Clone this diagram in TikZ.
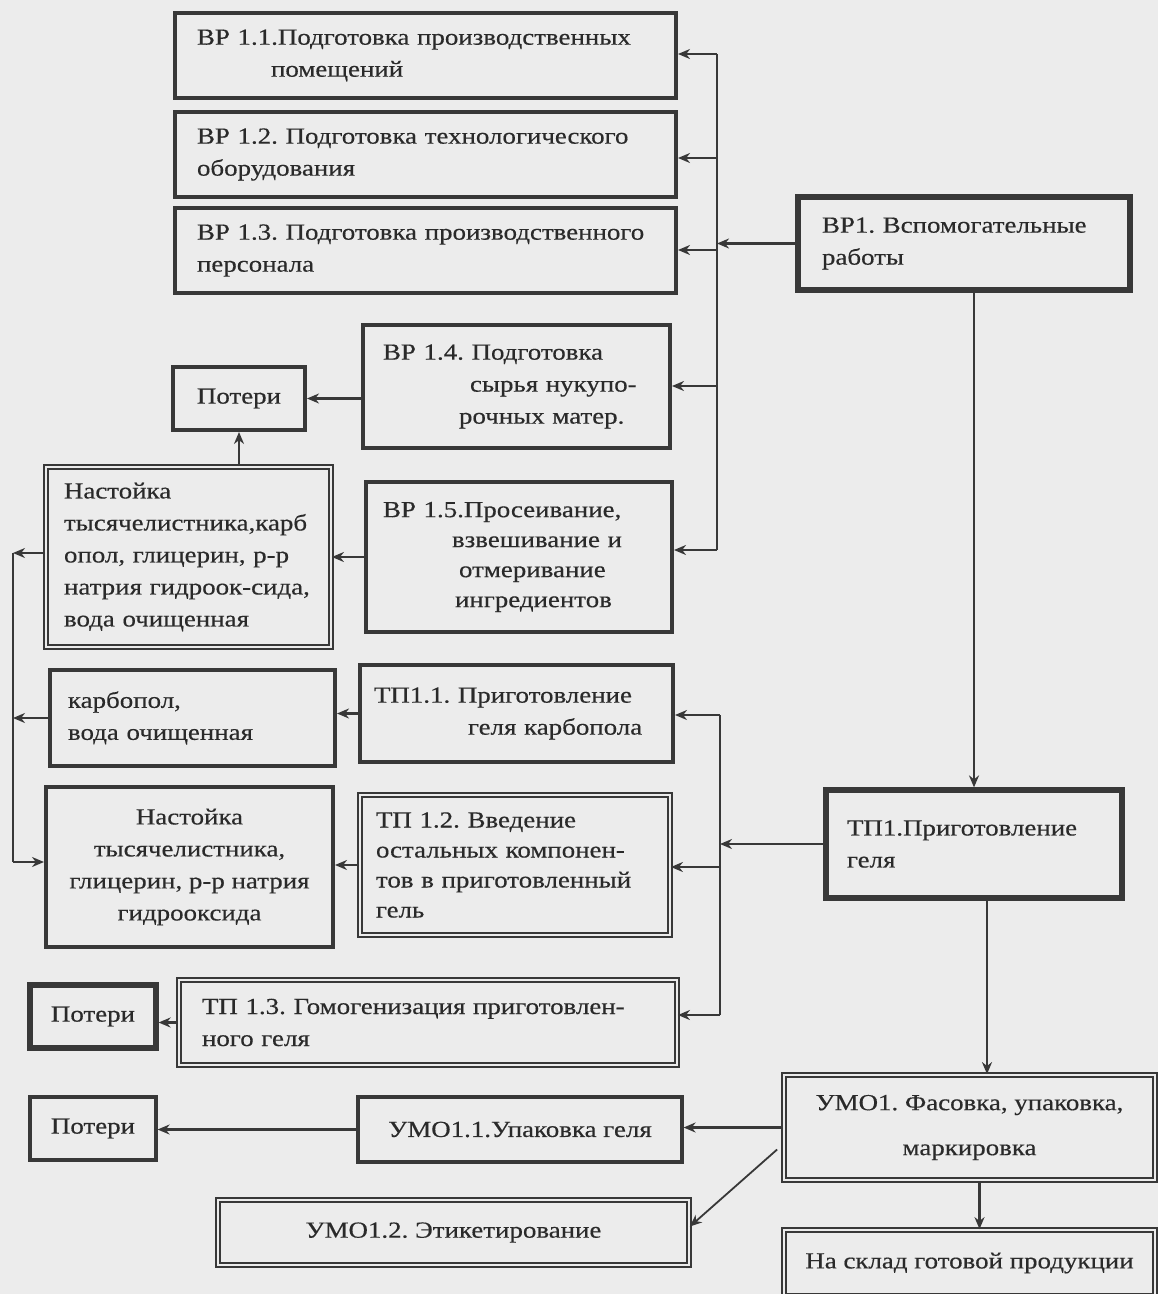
\documentclass[tikz,border=0pt]{standalone}
\usepackage{fontspec}
\setmainfont{Liberation Serif}[FakeStretch=1.17,FakeBold=0.4]
\usetikzlibrary{arrows.meta,calc}
\definecolor{ink}{HTML}{2A2A2A}
\definecolor{edge}{HTML}{383838}
\definecolor{paper}{HTML}{ECECEC}
\frenchspacing
\begin{document}
\begin{tikzpicture}[x=0.5pt,y=-0.5pt,
  every node/.style={font=\frenchspacing\fontsize{11.5}{16}\selectfont, text=ink},
  bx/.style={draw=edge, line width=2pt, inner ysep=0pt},
  bxx/.style={draw=edge, line width=2.6pt, inner ysep=0pt},
  bxt/.style={draw=edge, line width=1.6pt, inner ysep=0pt},
  dbx/.style={draw=edge, double=paper, double distance=1.1pt, line width=0.9pt, inner ysep=0pt},
  lft/.style={align=left},
  ctr/.style={align=center},
  ln/.style={draw=edge, line width=1.4pt},
  arr/.style={ln, -{Stealth[length=6pt,width=5pt]}},
  arrthin/.style={draw=edge, line width=0.9pt, -{Stealth[length=6pt,width=5pt]}},
]
\fill[paper] (0,0) rectangle (1158,1294);
\useasboundingbox (0,0) rectangle (1158,1294);

% ---- ВР boxes
\node[bx,lft, minimum width=250.5pt, minimum height=42.5pt, text width=228.5pt, inner xsep=11pt] (b11) at (425.5,55.5)
  {\mbox{ВР 1.1.Подготовка производственных}\\\hspace*{37pt}помещений};
\node[bx,lft, minimum width=250.5pt, minimum height=42.5pt, text width=228.5pt, inner xsep=11pt] (b12) at (425.5,154.5)
  {\mbox{ВР 1.2. Подготовка технологического}\\оборудования};
\node[bx,lft, minimum width=250.5pt, minimum height=42.5pt, text width=228.5pt, inner xsep=11pt] (b13) at (425.5,250.5)
  {\mbox{ВР 1.3. Подготовка производственного}\\персонала};
\node[bxx,lft, minimum width=166pt, minimum height=46.5pt, text width=142pt, inner xsep=12pt] (bp1) at (964,243.5)
  {\mbox{ВР1. Вспомогательные}\\работы};
\node[bx,lft, minimum width=153.5pt, minimum height=61.5pt, text width=133.5pt, inner xsep=10pt] (b14) at (516.5,386.5)
  {\mbox{ВР 1.4. Подготовка}\\\hspace*{43.5pt}\mbox{сырья нукупо-}\\\hspace*{38pt}\mbox{рочных матер.}};
\node[bx,ctr, minimum width=66pt, minimum height=31.5pt] (pot1) at (239,398.5) {Потери};
\node[dbx,lft, minimum width=142.5pt, minimum height=90pt, text width=124.5pt, inner xsep=9pt] (nas1) at (188.5,557)
  {Настойка\\\mbox{тысячелистника,карб}\\\mbox{опол, глицерин, р-р}\\\mbox{натрия гидроок-сида,}\\\mbox{вода очищенная}};
\node[bx,lft, minimum width=153pt, minimum height=75pt, text width=136pt, inner xsep=8.5pt] (b15) at (519,557)
  {\mbox{ВР 1.5.Просеивание,}\\[-1pt]\hspace*{34.5pt}\mbox{взвешивание и}\\[-1pt]\hspace*{38pt}отмеривание\\[-1pt]\hspace*{36pt}ингредиентов};

% ---- ТП boxes
\node[bx,lft, minimum width=142.5pt, minimum height=48pt, text width=124.5pt, inner xsep=9pt] (karb) at (192.5,718)
  {карбопол,\\\mbox{вода очищенная}};
\node[bx,lft, minimum width=156.5pt, minimum height=48.5pt, text width=142.5pt, inner xsep=7pt] (tp11) at (516.5,713.5)
  {\mbox{ТП1.1. Приготовление}\\\hspace*{47pt}\mbox{геля карбопола}};
\node[bx,ctr, minimum width=143.5pt, minimum height=80pt] (nas2) at (189.5,867)
  {Настойка\\тысячелистника,\\глицерин, р-р натрия\\гидрооксида};
\node[dbx,lft, minimum width=155pt, minimum height=70pt, text width=139pt, inner xsep=8pt] (tp12) at (515,865)
  {\mbox{ТП 1.2. Введение}\\[-1pt]\mbox{остальных компонен-}\\[-1pt]\mbox{тов в приготовленный}\\[-1pt]гель};
\node[bxx,lft, minimum width=148pt, minimum height=54pt, text width=127pt, inner xsep=10.5pt] (tp1) at (974,844)
  {\mbox{ТП1.Приготовление}\\геля};
\node[bxx,ctr, minimum width=63pt, minimum height=31.5pt] (pot2) at (93,1016.5) {Потери};
\node[dbx,lft, minimum width=249pt, minimum height=42.5pt, text width=226pt, inner xsep=11.5pt] (tp13) at (428,1022.5)
  {\mbox{ТП 1.3. Гомогенизация приготовлен-}\\ного геля};

% ---- УМО boxes
\node[dbx,ctr, minimum width=185.5pt, minimum height=52.5pt] (umo1) at (969.5,1127.5)
  {УМО1. Фасовка, упаковка,\\[6.5pt]маркировка};
\node[bxt,ctr, minimum width=63pt, minimum height=31.5pt] (pot3) at (93,1128.5) {Потери};
\node[bxt,ctr, minimum width=162pt, minimum height=32.5pt] (umo11) at (520,1129.5) {УМО1.1.Упаковка геля};
\node[dbx,ctr, minimum width=235.5pt, minimum height=32.5pt] (umo12) at (453.5,1232.5) {УМО1.2. Этикетирование};
\node[dbx,ctr, minimum width=185.5pt, minimum height=33pt] (sklad) at (969.5,1263) {На склад готовой продукции};

% ---- bus from ВР1
\coordinate (bt) at (717,54);
\coordinate (bb) at (717,550);
\coordinate (j12) at (717,158);
\coordinate (j13) at (717,250);
\coordinate (j14) at (717,386);
\draw[ln] (bt) -- (bb);
\draw[arr] (bp1.west) -- (bp1.west -| bt);
\draw[arr] (bt) -- (bt -| b11.east);
\draw[arr] (j12) -- (j12 -| b12.east);
\draw[arr] (j13) -- (j13 -| b13.east);
\draw[arr] (j14) -- (j14 -| b14.east);
\draw[arr] (bb) -- (bb -| b15.east);

\draw[arr] (pot1.east -| b14.west) -- (pot1.east);
\draw[arr] (pot1.south |- nas1.north) -- (pot1.south);
\draw[arr] (b15.west) -- (b15.west -| nas1.east);

% ---- left bus
\coordinate (lt) at (13,553);
\coordinate (lb) at (13,862);
\draw[arr] (nas1.west |- lt) -- (lt);
\draw[ln] (lt) -- (lb);
\draw[arr] (lb) -- (lb -| nas2.west);
\draw[arr] (karb.west) -- (karb.west -| lt);

\draw[arr] (tp11.west) -- (tp11.west -| karb.east);
\draw[arr] (tp12.west) -- (tp12.west -| nas2.east);

% ---- bus from ТП1
\coordinate (mt) at (720,715);
\coordinate (mm) at (720,867);
\coordinate (mb) at (720,1015);
\draw[ln] (mt) -- (mb);
\draw[arr] (tp1.west) -- (tp1.west -| mt);
\draw[arr] (mt) -- (mt -| tp11.east);
\draw[arr] (mm) -- (mm -| tp12.east);
\draw[arr] (mb) -- (mb -| tp13.east);
\draw[arr] (tp13.west) -- (tp13.west -| pot2.east);

% ---- main vertical flow
\draw[arr] (tp1.north |- bp1.south) -- (tp1.north);
\draw[arr] ([xshift=6.5pt]tp1.south) -- ([xshift=6.5pt]tp1.south |- umo1.north);
\draw[arr] ([xshift=5pt]umo1.south) -- ([xshift=5pt]umo1.south |- sklad.north);

% ---- УМО connections
\draw[arr] (umo1.west) -- (umo1.west -| umo11.east);
\draw[arr] (umo11.west) -- (umo11.west -| pot3.east);
\draw[arrthin] ([xshift=-3pt,yshift=-11pt]umo1.west) -- ([yshift=3pt]umo12.east);
\end{tikzpicture}
\end{document}
